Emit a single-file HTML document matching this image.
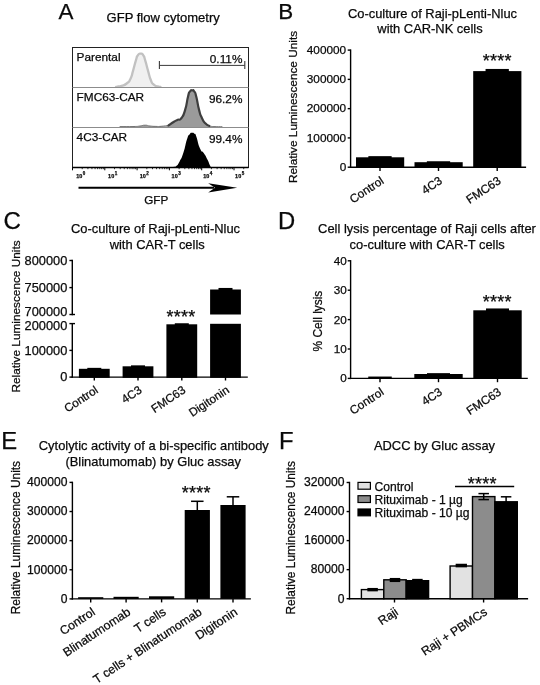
<!DOCTYPE html>
<html lang="en">
<head>
<meta charset="utf-8">
<title>Figure</title>
<style>
html,body{margin:0;padding:0;background:#fff;}
body{width:540px;height:685px;overflow:hidden;}
svg{display:block;filter:grayscale(1);font-family:'Liberation Sans', Arial, sans-serif;fill:#111;}
svg text{fill:#0a0a0a;stroke:#0a0a0a;stroke-width:0.25px;}
</style>
</head>
<body>
<svg width="540" height="685" viewBox="0 0 540 685" font-family="'Liberation Sans', Arial, sans-serif">
<rect x="0" y="0" width="540" height="685" fill="#fff"/>
<text x="58.4" y="19.1" font-size="22.4" text-anchor="start">A</text>
<text x="163.2" y="22.3" font-size="13.0" text-anchor="middle">GFP flow cytometry</text>
<path d="M116.00,86.90 C116.83,86.77 116.63,86.83 118.50,86.50 C120.37,86.17 118.87,86.90 121.60,85.90 C124.33,84.90 123.77,85.83 126.70,83.50 C129.63,81.17 128.27,83.20 130.40,78.90 C132.53,74.60 131.27,76.77 133.10,70.60 C134.93,64.43 134.33,65.47 135.90,60.40 C137.47,55.33 136.23,57.67 137.80,55.40 C139.37,53.13 138.77,53.60 140.60,53.60 C142.43,53.60 141.77,53.13 143.30,55.40 C144.83,57.67 143.63,55.33 145.20,60.40 C146.77,65.47 146.17,64.13 148.00,70.60 C149.83,77.07 148.87,75.20 150.70,79.80 C152.53,84.40 151.20,82.20 153.50,84.40 C155.80,86.60 155.27,85.60 157.60,86.40 C159.93,87.20 159.53,86.67 160.50,86.80 L160.50,87.5 L116.00,87.5 Z" fill="#f0f0f0" stroke="none"/>
<path d="M116.00,86.90 C116.83,86.77 116.63,86.83 118.50,86.50 C120.37,86.17 118.87,86.90 121.60,85.90 C124.33,84.90 123.77,85.83 126.70,83.50 C129.63,81.17 128.27,83.20 130.40,78.90 C132.53,74.60 131.27,76.77 133.10,70.60 C134.93,64.43 134.33,65.47 135.90,60.40 C137.47,55.33 136.23,57.67 137.80,55.40 C139.37,53.13 138.77,53.60 140.60,53.60 C142.43,53.60 141.77,53.13 143.30,55.40 C144.83,57.67 143.63,55.33 145.20,60.40 C146.77,65.47 146.17,64.13 148.00,70.60 C149.83,77.07 148.87,75.20 150.70,79.80 C152.53,84.40 151.20,82.20 153.50,84.40 C155.80,86.60 155.27,85.60 157.60,86.40 C159.93,87.20 159.53,86.67 160.50,86.80" fill="none" stroke="#c1c1c1" stroke-width="2.3" stroke-linejoin="round" stroke-linecap="round"/>
<path d="M120.00,126.60 C124.67,126.57 127.33,126.70 134.00,126.50 C140.67,126.30 136.27,126.43 140.00,126.00 C143.73,125.57 141.87,125.20 145.20,125.20 C148.53,125.20 146.40,125.60 150.00,126.00 C153.60,126.40 152.30,126.30 156.00,126.40 C159.70,126.50 156.93,126.63 161.10,126.30 C165.27,125.97 164.20,126.93 168.50,125.40 C172.80,123.87 170.90,123.57 174.00,121.70 C177.10,119.83 175.30,121.03 177.80,119.80 C180.30,118.57 179.03,121.40 181.50,118.00 C183.97,114.60 183.03,116.70 185.20,109.60 C187.37,102.50 186.47,102.67 188.00,96.70 C189.53,90.73 188.40,93.83 189.80,91.70 C191.20,89.57 190.67,90.30 192.20,90.30 C193.73,90.30 193.03,89.57 194.40,91.70 C195.77,93.83 194.77,90.73 196.30,96.70 C197.83,102.67 197.13,102.50 199.00,109.60 C200.87,116.70 199.70,113.37 201.90,118.00 C204.10,122.63 203.13,120.87 205.60,123.50 C208.07,126.13 206.53,124.87 209.30,125.90 C212.07,126.93 209.67,126.33 213.90,126.60 C218.13,126.87 219.30,126.67 222.00,126.70 L222.00,127.5 L120.00,127.5 Z" fill="#9b9b9b" stroke="none"/>
<path d="M120.00,126.60 C124.67,126.57 127.33,126.70 134.00,126.50 C140.67,126.30 136.27,126.43 140.00,126.00 C143.73,125.57 141.87,125.20 145.20,125.20 C148.53,125.20 146.40,125.60 150.00,126.00 C153.60,126.40 152.30,126.30 156.00,126.40 C159.70,126.50 156.93,126.63 161.10,126.30 C165.27,125.97 166.03,125.70 168.50,125.40" fill="none" stroke="#6a6a6a" stroke-width="0.9" stroke-linecap="round"/>
<path d="M209.30,125.90 C210.83,126.13 209.67,126.33 213.90,126.60 C218.13,126.87 219.30,126.67 222.00,126.70" fill="none" stroke="#6a6a6a" stroke-width="0.9" stroke-linecap="round"/>
<path d="M168.50,125.40 C170.33,124.17 170.90,123.57 174.00,121.70 C177.10,119.83 175.30,121.03 177.80,119.80 C180.30,118.57 179.03,121.40 181.50,118.00 C183.97,114.60 183.03,116.70 185.20,109.60 C187.37,102.50 186.47,102.67 188.00,96.70 C189.53,90.73 188.40,93.83 189.80,91.70 C191.20,89.57 190.67,90.30 192.20,90.30 C193.73,90.30 193.03,89.57 194.40,91.70 C195.77,93.83 194.77,90.73 196.30,96.70 C197.83,102.67 197.13,102.50 199.00,109.60 C200.87,116.70 199.70,113.37 201.90,118.00 C204.10,122.63 203.13,120.87 205.60,123.50 C208.07,126.13 208.07,125.10 209.30,125.90" fill="none" stroke="#3e3e3e" stroke-width="2.2" stroke-linejoin="round" stroke-linecap="round"/>
<path d="M170.50,167.80 C171.50,167.53 171.57,167.60 173.50,167.00 C175.43,166.40 174.27,167.83 176.30,166.00 C178.33,164.17 177.27,165.80 179.60,161.50 C181.93,157.20 180.83,160.50 183.30,153.10 C185.77,145.70 184.93,145.53 187.00,139.30 C189.07,133.07 187.77,136.57 189.50,134.40 C191.23,132.23 190.53,133.00 192.20,132.80 C193.87,132.60 193.13,132.57 194.50,133.80 C195.87,135.03 194.47,131.60 196.30,136.50 C198.13,141.40 197.53,142.97 200.00,148.50 C202.47,154.03 201.23,149.40 203.70,153.10 C206.17,156.80 205.30,155.47 207.40,159.60 C209.50,163.73 208.63,162.77 210.00,165.50 C211.37,168.23 211.00,167.03 211.50,167.80 L211.50,167.5 L170.50,167.5 Z" fill="#000" stroke="none"/>
<rect x="72.5" y="47.5" width="176.0" height="120.0" fill="none" stroke="#222" stroke-width="1"/>
<line x1="72.5" y1="87.5" x2="248.5" y2="87.5" stroke="#8c8c8c" stroke-width="1.0"/>
<line x1="72.5" y1="127.5" x2="248.5" y2="127.5" stroke="#8c8c8c" stroke-width="1.0"/>
<line x1="72.5" y1="167.5" x2="248.5" y2="167.5" stroke="#000" stroke-width="1.3"/>
<text x="76.6" y="61.0" font-size="11.8" text-anchor="start">Parental</text>
<text x="76.6" y="101.0" font-size="11.8" text-anchor="start">FMC63-CAR</text>
<text x="76.6" y="141.2" font-size="11.8" text-anchor="start">4C3-CAR</text>
<text x="242.4" y="62.8" font-size="11.8" text-anchor="end">0.11%</text>
<text x="242.4" y="102.8" font-size="11.8" text-anchor="end">96.2%</text>
<text x="242.4" y="142.8" font-size="11.8" text-anchor="end">99.4%</text>
<line x1="159.4" y1="65.4" x2="244.8" y2="65.4" stroke="#3a3a3a" stroke-width="1.0"/>
<line x1="159.4" y1="61.0" x2="159.4" y2="68.9" stroke="#3a3a3a" stroke-width="1.1"/>
<line x1="244.8" y1="61.0" x2="244.8" y2="68.9" stroke="#3a3a3a" stroke-width="1.1"/>
<line x1="72.5" y1="167.5" x2="72.5" y2="170.3" stroke="#000" stroke-width="1.0"/>
<text x="76.3" y="177.8" font-size="5.5" font-weight="bold" stroke-width="0.1">10<tspan dy="-2.9" dx="0.4" font-size="4.5">0</tspan></text>
<line x1="82.22" y1="167.5" x2="82.22" y2="169.2" stroke="#000" stroke-width="0.8"/>
<line x1="87.91" y1="167.5" x2="87.91" y2="169.2" stroke="#000" stroke-width="0.8"/>
<line x1="91.95" y1="167.5" x2="91.95" y2="169.2" stroke="#000" stroke-width="0.8"/>
<line x1="95.08" y1="167.5" x2="95.08" y2="169.2" stroke="#000" stroke-width="0.8"/>
<line x1="97.63" y1="167.5" x2="97.63" y2="169.2" stroke="#000" stroke-width="0.8"/>
<line x1="99.8" y1="167.5" x2="99.8" y2="169.2" stroke="#000" stroke-width="0.8"/>
<line x1="101.67" y1="167.5" x2="101.67" y2="169.2" stroke="#000" stroke-width="0.8"/>
<line x1="103.32" y1="167.5" x2="103.32" y2="169.2" stroke="#000" stroke-width="0.8"/>
<line x1="104.8" y1="167.5" x2="104.8" y2="170.3" stroke="#000" stroke-width="1.0"/>
<text x="108.1" y="177.8" font-size="5.5" font-weight="bold" stroke-width="0.1">10<tspan dy="-2.9" dx="0.4" font-size="4.5">1</tspan></text>
<line x1="114.52" y1="167.5" x2="114.52" y2="169.2" stroke="#000" stroke-width="0.8"/>
<line x1="120.21" y1="167.5" x2="120.21" y2="169.2" stroke="#000" stroke-width="0.8"/>
<line x1="124.25" y1="167.5" x2="124.25" y2="169.2" stroke="#000" stroke-width="0.8"/>
<line x1="127.38" y1="167.5" x2="127.38" y2="169.2" stroke="#000" stroke-width="0.8"/>
<line x1="129.93" y1="167.5" x2="129.93" y2="169.2" stroke="#000" stroke-width="0.8"/>
<line x1="132.1" y1="167.5" x2="132.1" y2="169.2" stroke="#000" stroke-width="0.8"/>
<line x1="133.97" y1="167.5" x2="133.97" y2="169.2" stroke="#000" stroke-width="0.8"/>
<line x1="135.62" y1="167.5" x2="135.62" y2="169.2" stroke="#000" stroke-width="0.8"/>
<line x1="137.1" y1="167.5" x2="137.1" y2="170.3" stroke="#000" stroke-width="1.0"/>
<text x="139.8" y="177.8" font-size="5.5" font-weight="bold" stroke-width="0.1">10<tspan dy="-2.9" dx="0.4" font-size="4.5">2</tspan></text>
<line x1="146.82" y1="167.5" x2="146.82" y2="169.2" stroke="#000" stroke-width="0.8"/>
<line x1="152.51" y1="167.5" x2="152.51" y2="169.2" stroke="#000" stroke-width="0.8"/>
<line x1="156.55" y1="167.5" x2="156.55" y2="169.2" stroke="#000" stroke-width="0.8"/>
<line x1="159.68" y1="167.5" x2="159.68" y2="169.2" stroke="#000" stroke-width="0.8"/>
<line x1="162.23" y1="167.5" x2="162.23" y2="169.2" stroke="#000" stroke-width="0.8"/>
<line x1="164.4" y1="167.5" x2="164.4" y2="169.2" stroke="#000" stroke-width="0.8"/>
<line x1="166.27" y1="167.5" x2="166.27" y2="169.2" stroke="#000" stroke-width="0.8"/>
<line x1="167.92" y1="167.5" x2="167.92" y2="169.2" stroke="#000" stroke-width="0.8"/>
<line x1="169.39999999999998" y1="167.5" x2="169.39999999999998" y2="170.3" stroke="#000" stroke-width="1.0"/>
<text x="171.6" y="177.8" font-size="5.5" font-weight="bold" stroke-width="0.1">10<tspan dy="-2.9" dx="0.4" font-size="4.5">3</tspan></text>
<line x1="179.12" y1="167.5" x2="179.12" y2="169.2" stroke="#000" stroke-width="0.8"/>
<line x1="184.81" y1="167.5" x2="184.81" y2="169.2" stroke="#000" stroke-width="0.8"/>
<line x1="188.85" y1="167.5" x2="188.85" y2="169.2" stroke="#000" stroke-width="0.8"/>
<line x1="191.98" y1="167.5" x2="191.98" y2="169.2" stroke="#000" stroke-width="0.8"/>
<line x1="194.53" y1="167.5" x2="194.53" y2="169.2" stroke="#000" stroke-width="0.8"/>
<line x1="196.7" y1="167.5" x2="196.7" y2="169.2" stroke="#000" stroke-width="0.8"/>
<line x1="198.57" y1="167.5" x2="198.57" y2="169.2" stroke="#000" stroke-width="0.8"/>
<line x1="200.22" y1="167.5" x2="200.22" y2="169.2" stroke="#000" stroke-width="0.8"/>
<line x1="201.7" y1="167.5" x2="201.7" y2="170.3" stroke="#000" stroke-width="1.0"/>
<text x="203.3" y="177.8" font-size="5.5" font-weight="bold" stroke-width="0.1">10<tspan dy="-2.9" dx="0.4" font-size="4.5">4</tspan></text>
<line x1="211.42" y1="167.5" x2="211.42" y2="169.2" stroke="#000" stroke-width="0.8"/>
<line x1="217.11" y1="167.5" x2="217.11" y2="169.2" stroke="#000" stroke-width="0.8"/>
<line x1="221.15" y1="167.5" x2="221.15" y2="169.2" stroke="#000" stroke-width="0.8"/>
<line x1="224.28" y1="167.5" x2="224.28" y2="169.2" stroke="#000" stroke-width="0.8"/>
<line x1="226.83" y1="167.5" x2="226.83" y2="169.2" stroke="#000" stroke-width="0.8"/>
<line x1="229.0" y1="167.5" x2="229.0" y2="169.2" stroke="#000" stroke-width="0.8"/>
<line x1="230.87" y1="167.5" x2="230.87" y2="169.2" stroke="#000" stroke-width="0.8"/>
<line x1="232.52" y1="167.5" x2="232.52" y2="169.2" stroke="#000" stroke-width="0.8"/>
<line x1="234.0" y1="167.5" x2="234.0" y2="170.3" stroke="#000" stroke-width="1.0"/>
<text x="235.1" y="177.8" font-size="5.5" font-weight="bold" stroke-width="0.1">10<tspan dy="-2.9" dx="0.4" font-size="4.5">5</tspan></text>
<line x1="243.72" y1="167.5" x2="243.72" y2="169.2" stroke="#000" stroke-width="0.8"/>
<line x1="78.5" y1="187.8" x2="214" y2="187.8" stroke="#000" stroke-width="2.1"/>
<path d="M237.2,187.8 L208.2,183.2 L215,187.8 L208.2,192.4 Z" fill="#000"/>
<text x="156.2" y="203.9" font-size="11.7" text-anchor="middle">GFP</text>
<text x="278.2" y="18.8" font-size="22.4" text-anchor="start">B</text>
<text x="432.5" y="17.5" font-size="12.9" text-anchor="middle">Co-culture of Raji-pLenti-Nluc</text>
<text x="430.0" y="33.0" font-size="12.9" text-anchor="middle">with CAR-NK cells</text>
<line x1="350.6" y1="49.4" x2="350.6" y2="167.89999999999998" stroke="#000" stroke-width="1.4"/>
<line x1="347.70000000000005" y1="50.1" x2="350.6" y2="50.1" stroke="#000" stroke-width="1.4"/>
<text x="346.20000000000005" y="53.7" font-size="11.8" text-anchor="end">400000</text>
<line x1="347.70000000000005" y1="79.375" x2="350.6" y2="79.375" stroke="#000" stroke-width="1.4"/>
<text x="346.20000000000005" y="82.97" font-size="11.8" text-anchor="end">300000</text>
<line x1="347.70000000000005" y1="108.65" x2="350.6" y2="108.65" stroke="#000" stroke-width="1.4"/>
<text x="346.20000000000005" y="112.25" font-size="11.8" text-anchor="end">200000</text>
<line x1="347.70000000000005" y1="137.92499999999998" x2="350.6" y2="137.92499999999998" stroke="#000" stroke-width="1.4"/>
<text x="346.20000000000005" y="141.52" font-size="11.8" text-anchor="end">100000</text>
<line x1="347.70000000000005" y1="167.2" x2="350.6" y2="167.2" stroke="#000" stroke-width="1.4"/>
<text x="346.20000000000005" y="170.8" font-size="11.8" text-anchor="end">0</text>
<line x1="349.90000000000003" y1="167.2" x2="526.1" y2="167.2" stroke="#000" stroke-width="1.4"/>
<line x1="380.0" y1="167.2" x2="380.0" y2="171.0" stroke="#000" stroke-width="1.4"/>
<line x1="438.5" y1="167.2" x2="438.5" y2="171.0" stroke="#000" stroke-width="1.4"/>
<line x1="497.2" y1="167.2" x2="497.2" y2="171.0" stroke="#000" stroke-width="1.4"/>
<rect x="356.00" y="157.30" width="48.20" height="10.60" fill="#000"/>
<rect x="368.35" y="156.15" width="23.30" height="2.15" fill="#000"/>
<rect x="414.50" y="162.20" width="48.20" height="5.70" fill="#000"/>
<rect x="426.85" y="161.25" width="23.30" height="1.95" fill="#000"/>
<rect x="473.20" y="71.10" width="48.20" height="96.80" fill="#000"/>
<rect x="485.55" y="68.95" width="23.30" height="3.15" fill="#000"/>
<text transform="translate(297.1,107.0) rotate(-90)" font-size="11.8" text-anchor="middle">Relative Luminescence Units</text>
<text transform="translate(384.6,182.7) rotate(-33.5)" font-size="11.8" text-anchor="end">Control</text>
<text transform="translate(443.1,182.7) rotate(-33.5)" font-size="11.8" text-anchor="end">4C3</text>
<text transform="translate(501.8,182.7) rotate(-33.5)" font-size="11.8" text-anchor="end">FMC63</text>
<text x="497.2" y="66.9" font-size="18.0" text-anchor="middle" stroke-width="0.1" letter-spacing="0.25">****</text>
<text x="3.6" y="228.5" font-size="24" text-anchor="start">C</text>
<text x="155.5" y="233.3" font-size="12.9" text-anchor="middle">Co-culture of Raji-pLenti-Nluc</text>
<text x="157.2" y="248.8" font-size="12.9" text-anchor="middle">with CAR-T cells</text>
<line x1="72.3" y1="259.8" x2="72.3" y2="315.2" stroke="#000" stroke-width="1.4"/>
<line x1="69.39999999999999" y1="260.5" x2="72.3" y2="260.5" stroke="#000" stroke-width="1.4"/>
<text x="67.3" y="264.6" font-size="12.8" text-anchor="end">800000</text>
<line x1="69.39999999999999" y1="287.6" x2="72.3" y2="287.6" stroke="#000" stroke-width="1.4"/>
<text x="67.3" y="291.7" font-size="12.8" text-anchor="end">750000</text>
<line x1="69.39999999999999" y1="314.5" x2="75.0" y2="314.5" stroke="#000" stroke-width="1.4"/>
<text x="67.3" y="316.2" font-size="12.8" text-anchor="end">700000</text>
<line x1="72.3" y1="322.90000000000003" x2="72.3" y2="377.8" stroke="#000" stroke-width="1.4"/>
<line x1="69.39999999999999" y1="323.6" x2="75.0" y2="323.6" stroke="#000" stroke-width="1.4"/>
<text x="67.3" y="330.1" font-size="12.8" text-anchor="end">200000</text>
<line x1="69.39999999999999" y1="350.4" x2="72.3" y2="350.4" stroke="#000" stroke-width="1.4"/>
<text x="67.3" y="354.5" font-size="12.8" text-anchor="end">100000</text>
<line x1="69.39999999999999" y1="377.1" x2="72.3" y2="377.1" stroke="#000" stroke-width="1.4"/>
<text x="67.3" y="381.2" font-size="12.8" text-anchor="end">0</text>
<line x1="71.6" y1="377.1" x2="247.8" y2="377.1" stroke="#000" stroke-width="1.4"/>
<line x1="94.3" y1="377.1" x2="94.3" y2="380.5" stroke="#000" stroke-width="1.4"/>
<line x1="138.0" y1="377.1" x2="138.0" y2="380.5" stroke="#000" stroke-width="1.4"/>
<line x1="181.8" y1="377.1" x2="181.8" y2="380.5" stroke="#000" stroke-width="1.4"/>
<line x1="225.5" y1="377.1" x2="225.5" y2="380.5" stroke="#000" stroke-width="1.4"/>
<rect x="78.90" y="368.80" width="30.80" height="9.00" fill="#000"/>
<rect x="87.30" y="367.85" width="14.00" height="1.65" fill="#000"/>
<rect x="122.60" y="366.30" width="30.80" height="11.50" fill="#000"/>
<rect x="131.00" y="365.35" width="14.00" height="1.65" fill="#000"/>
<rect x="166.40" y="324.30" width="30.80" height="53.50" fill="#000"/>
<rect x="174.80" y="323.25" width="14.00" height="1.75" fill="#000"/>
<rect x="210.10" y="323.80" width="30.80" height="54.00" fill="#000"/>
<rect x="210.10" y="289.50" width="30.80" height="25.00" fill="#000"/>
<rect x="218.50" y="287.95" width="14.00" height="2.05" fill="#000"/>
<text transform="translate(20.3,316.5) rotate(-90)" font-size="11.8" text-anchor="middle">Relative Luminescence Units</text>
<text transform="translate(98.89999999999999,392.0) rotate(-33.5)" font-size="11.7" text-anchor="end">Control</text>
<text transform="translate(142.6,392.0) rotate(-33.5)" font-size="11.7" text-anchor="end">4C3</text>
<text transform="translate(186.4,392.0) rotate(-33.5)" font-size="11.7" text-anchor="end">FMC63</text>
<text transform="translate(230.1,392.0) rotate(-33.5)" font-size="11.7" text-anchor="end">Digitonin</text>
<text x="181.0" y="322.6" font-size="18.0" text-anchor="middle" stroke-width="0.1" letter-spacing="0.25">****</text>
<text x="278.1" y="229.3" font-size="23.8" text-anchor="start">D</text>
<text x="427.0" y="233.4" font-size="12.9" text-anchor="middle">Cell lysis percentage of Raji cells after</text>
<text x="427.2" y="248.9" font-size="12.9" text-anchor="middle">co-culture with CAR-T cells</text>
<line x1="350.6" y1="260.1" x2="350.6" y2="379.09999999999997" stroke="#000" stroke-width="1.4"/>
<line x1="347.70000000000005" y1="260.8" x2="350.6" y2="260.8" stroke="#000" stroke-width="1.4"/>
<text x="346.8" y="264.8" font-size="11.7" text-anchor="end">40</text>
<line x1="347.70000000000005" y1="290.2" x2="350.6" y2="290.2" stroke="#000" stroke-width="1.4"/>
<text x="346.8" y="294.2" font-size="11.7" text-anchor="end">30</text>
<line x1="347.70000000000005" y1="319.6" x2="350.6" y2="319.6" stroke="#000" stroke-width="1.4"/>
<text x="346.8" y="323.6" font-size="11.7" text-anchor="end">20</text>
<line x1="347.70000000000005" y1="349.0" x2="350.6" y2="349.0" stroke="#000" stroke-width="1.4"/>
<text x="346.8" y="353.0" font-size="11.7" text-anchor="end">10</text>
<line x1="347.70000000000005" y1="378.4" x2="350.6" y2="378.4" stroke="#000" stroke-width="1.4"/>
<text x="346.8" y="382.4" font-size="11.7" text-anchor="end">0</text>
<line x1="349.90000000000003" y1="378.4" x2="527.8" y2="378.4" stroke="#000" stroke-width="1.4"/>
<line x1="380.0" y1="378.4" x2="380.0" y2="382.2" stroke="#000" stroke-width="1.4"/>
<line x1="438.5" y1="378.4" x2="438.5" y2="382.2" stroke="#000" stroke-width="1.4"/>
<line x1="497.5" y1="378.4" x2="497.5" y2="382.2" stroke="#000" stroke-width="1.4"/>
<rect x="368.25" y="376.55" width="23.50" height="1.85" fill="#000"/>
<rect x="414.30" y="374.00" width="48.40" height="4.40" fill="#000"/>
<rect x="427.00" y="373.15" width="23.00" height="1.35" fill="#000"/>
<rect x="473.30" y="310.30" width="48.40" height="68.10" fill="#000"/>
<rect x="486.00" y="308.45" width="23.00" height="2.55" fill="#000"/>
<text transform="translate(321.5,321.1) rotate(-90)" font-size="11.9" text-anchor="middle">% Cell lysis</text>
<text transform="translate(384.6,393.9) rotate(-33.5)" font-size="11.8" text-anchor="end">Control</text>
<text transform="translate(443.1,393.9) rotate(-33.5)" font-size="11.8" text-anchor="end">4C3</text>
<text transform="translate(502.1,393.9) rotate(-33.5)" font-size="11.8" text-anchor="end">FMC63</text>
<text x="497.2" y="307.7" font-size="18.0" text-anchor="middle" stroke-width="0.1" letter-spacing="0.25">****</text>
<text x="1.2" y="449.3" font-size="23.8" text-anchor="start">E</text>
<text x="153.8" y="450.3" font-size="12.9" text-anchor="middle">Cytolytic activity of a bi-specific antibody</text>
<text x="153.2" y="465.8" font-size="12.9" text-anchor="middle">(Blinatumomab) by Gluc assay</text>
<line x1="72.4" y1="481.7" x2="72.4" y2="599.6" stroke="#000" stroke-width="1.4"/>
<line x1="69.5" y1="482.4" x2="72.4" y2="482.4" stroke="#000" stroke-width="1.4"/>
<text x="67.4" y="486.2" font-size="12.1" text-anchor="end">400000</text>
<line x1="69.5" y1="511.525" x2="72.4" y2="511.525" stroke="#000" stroke-width="1.4"/>
<text x="67.4" y="515.32" font-size="12.1" text-anchor="end">300000</text>
<line x1="69.5" y1="540.65" x2="72.4" y2="540.65" stroke="#000" stroke-width="1.4"/>
<text x="67.4" y="544.45" font-size="12.1" text-anchor="end">200000</text>
<line x1="69.5" y1="569.775" x2="72.4" y2="569.775" stroke="#000" stroke-width="1.4"/>
<text x="67.4" y="573.57" font-size="12.1" text-anchor="end">100000</text>
<line x1="69.5" y1="598.9" x2="72.4" y2="598.9" stroke="#000" stroke-width="1.4"/>
<text x="67.4" y="602.7" font-size="12.1" text-anchor="end">0</text>
<line x1="71.7" y1="598.9" x2="250.9" y2="598.9" stroke="#000" stroke-width="1.4"/>
<line x1="90.7" y1="598.9" x2="90.7" y2="602.4" stroke="#000" stroke-width="1.4"/>
<line x1="126.1" y1="598.9" x2="126.1" y2="602.4" stroke="#000" stroke-width="1.4"/>
<line x1="161.6" y1="598.9" x2="161.6" y2="602.4" stroke="#000" stroke-width="1.4"/>
<line x1="197.3" y1="598.9" x2="197.3" y2="602.4" stroke="#000" stroke-width="1.4"/>
<line x1="233.0" y1="598.9" x2="233.0" y2="602.4" stroke="#000" stroke-width="1.4"/>
<rect x="78.10" y="597.20" width="25.20" height="1.70" fill="#000"/>
<rect x="113.50" y="596.80" width="25.20" height="2.10" fill="#000"/>
<rect x="149.00" y="596.30" width="25.20" height="2.60" fill="#000"/>
<rect x="184.70" y="510.00" width="25.20" height="88.90" fill="#000"/>
<line x1="197.3" y1="501.3" x2="197.3" y2="511" stroke="#000" stroke-width="1.5"/>
<line x1="191.05" y1="501.3" x2="203.55" y2="501.3" stroke="#000" stroke-width="1.5"/>
<rect x="220.40" y="505.00" width="25.20" height="93.90" fill="#000"/>
<line x1="233.0" y1="496.8" x2="233.0" y2="506" stroke="#000" stroke-width="1.5"/>
<line x1="226.75" y1="496.8" x2="239.25" y2="496.8" stroke="#000" stroke-width="1.5"/>
<text transform="translate(20.3,537.6) rotate(-90)" font-size="11.9" text-anchor="middle">Relative Luminescence Units</text>
<text transform="translate(96.0,613.9) rotate(-33.5)" font-size="12.2" text-anchor="end">Control</text>
<text transform="translate(131.39999999999998,613.9) rotate(-33.5)" font-size="12.2" text-anchor="end">Blinatumomab</text>
<text transform="translate(166.89999999999998,613.9) rotate(-33.5)" font-size="12.2" text-anchor="end">T cells</text>
<text transform="translate(202.6,613.9) rotate(-33.5)" font-size="12.2" text-anchor="end">T cells + Blinatumomab</text>
<text transform="translate(238.29999999999998,613.9) rotate(-33.5)" font-size="12.2" text-anchor="end">Digitonin</text>
<text x="196.3" y="499.1" font-size="18.0" text-anchor="middle" stroke-width="0.1" letter-spacing="0.25">****</text>
<text x="279.0" y="449.3" font-size="23.8" text-anchor="start">F</text>
<text x="434.5" y="450.1" font-size="12.9" text-anchor="middle">ADCC by Gluc assay</text>
<line x1="349.5" y1="481.8" x2="349.5" y2="599.4000000000001" stroke="#000" stroke-width="1.4"/>
<line x1="346.6" y1="482.5" x2="349.5" y2="482.5" stroke="#000" stroke-width="1.4"/>
<text x="344.6" y="486.3" font-size="12.15" text-anchor="end">320000</text>
<line x1="346.6" y1="511.55" x2="349.5" y2="511.55" stroke="#000" stroke-width="1.4"/>
<text x="344.6" y="515.35" font-size="12.15" text-anchor="end">240000</text>
<line x1="346.6" y1="540.6" x2="349.5" y2="540.6" stroke="#000" stroke-width="1.4"/>
<text x="344.6" y="544.4" font-size="12.15" text-anchor="end">160000</text>
<line x1="346.6" y1="569.6500000000001" x2="349.5" y2="569.6500000000001" stroke="#000" stroke-width="1.4"/>
<text x="344.6" y="573.45" font-size="12.15" text-anchor="end">80000</text>
<line x1="346.6" y1="598.7" x2="349.5" y2="598.7" stroke="#000" stroke-width="1.4"/>
<text x="344.6" y="602.5" font-size="12.15" text-anchor="end">0</text>
<line x1="348.8" y1="598.7" x2="528.1" y2="598.7" stroke="#000" stroke-width="1.4"/>
<line x1="394.5" y1="598.7" x2="394.5" y2="602.5" stroke="#000" stroke-width="1.4"/>
<line x1="483.6" y1="598.7" x2="483.6" y2="602.5" stroke="#000" stroke-width="1.4"/>
<rect x="361.40" y="589.60" width="22.40" height="9.10" fill="#e2e2e2" stroke="#000" stroke-width="1.4"/>
<rect x="367.35" y="587.95" width="10.50" height="3.40" fill="#000"/>
<rect x="383.80" y="579.80" width="22.40" height="18.90" fill="#8c8c8c" stroke="#000" stroke-width="1.4"/>
<rect x="389.75" y="577.95" width="10.50" height="4.10" fill="#000"/>
<rect x="406.20" y="580.70" width="22.40" height="18.00" fill="#000" stroke="#000" stroke-width="1.4"/>
<rect x="412.15" y="578.85" width="10.50" height="3.90" fill="#000"/>
<rect x="450.10" y="566.00" width="22.40" height="32.70" fill="#e2e2e2" stroke="#000" stroke-width="1.4"/>
<rect x="455.65" y="563.75" width="11.30" height="3.60" fill="#000"/>
<rect x="472.50" y="496.60" width="22.40" height="102.10" fill="#8c8c8c" stroke="#000" stroke-width="1.4"/>
<line x1="483.7" y1="493.6" x2="483.7" y2="499.6" stroke="#000" stroke-width="1.5"/>
<line x1="478.45" y1="493.6" x2="488.95" y2="493.6" stroke="#000" stroke-width="1.5"/>
<line x1="478.45" y1="499.6" x2="488.95" y2="499.6" stroke="#000" stroke-width="1.5"/>
<rect x="494.90" y="501.80" width="22.40" height="96.90" fill="#000" stroke="#000" stroke-width="1.4"/>
<line x1="506.1" y1="496.8" x2="506.1" y2="506.8" stroke="#000" stroke-width="1.5"/>
<line x1="500.85" y1="496.8" x2="511.35" y2="496.8" stroke="#000" stroke-width="1.5"/>
<line x1="500.85" y1="506.8" x2="511.35" y2="506.8" stroke="#000" stroke-width="1.5"/>
<text transform="translate(295.4,537.8) rotate(-90)" font-size="11.9" text-anchor="middle">Relative Luminescence Units</text>
<text transform="translate(399.1,614.0) rotate(-33.5)" font-size="12.2" text-anchor="end">Raji</text>
<text transform="translate(488.20000000000005,614.0) rotate(-33.5)" font-size="12.2" text-anchor="end">Raji + PBMCs</text>
<rect x="358.00" y="482.40" width="12.40" height="6.80" fill="#e2e2e2" stroke="#000" stroke-width="1.2"/>
<text x="374.5" y="490.5" font-size="12.1" text-anchor="start">Control</text>
<rect x="358.00" y="495.70" width="12.40" height="6.80" fill="#8c8c8c" stroke="#000" stroke-width="1.2"/>
<text x="374.5" y="503.8" font-size="12.1" text-anchor="start">Rituximab - 1 µg</text>
<rect x="358.00" y="509.00" width="12.40" height="6.80" fill="#000" stroke="#000" stroke-width="1.2"/>
<text x="374.5" y="517.1" font-size="12.1" text-anchor="start">Rituximab - 10 µg</text>
<line x1="455.0" y1="486.5" x2="514.2" y2="486.5" stroke="#000" stroke-width="1.5"/>
<text x="482.2" y="490.1" font-size="18.0" text-anchor="middle" stroke-width="0.1" letter-spacing="0.25">****</text>
</svg>
</body>
</html>
